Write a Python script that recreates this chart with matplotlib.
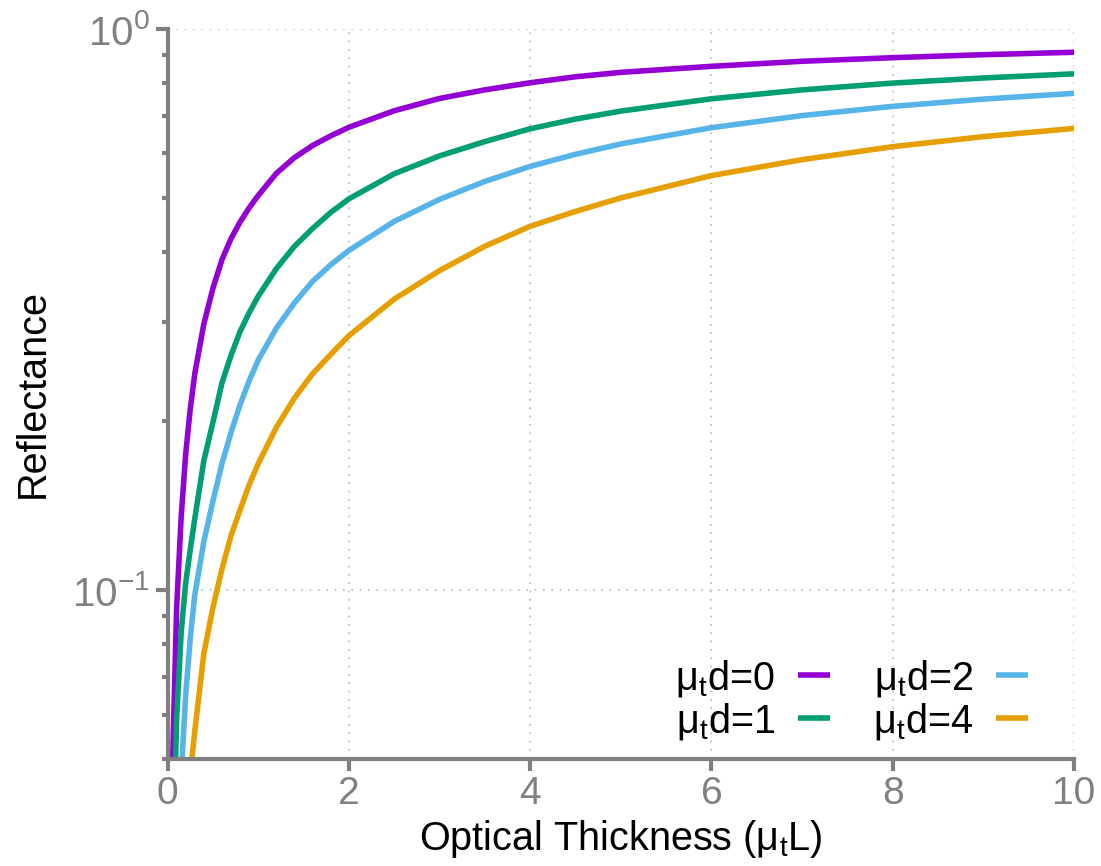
import matplotlib
matplotlib.use("Agg")
import matplotlib.pyplot as plt
from matplotlib.ticker import FixedLocator, FixedFormatter, NullLocator

plt.rcParams['font.family'] = ['Liberation Sans', 'DejaVu Sans']
plt.rcParams['mathtext.fontset'] = 'custom'
plt.rcParams['mathtext.rm'] = 'Liberation Sans'
plt.rcParams['mathtext.it'] = 'Liberation Sans'
plt.rcParams['mathtext.default'] = 'regular'

# optical thickness samples
thickness = [0.05, 0.1, 0.15, 0.2, 0.25, 0.3, 0.4, 0.5, 0.6, 0.7, 0.8, 0.9, 1.0,
             1.2, 1.4, 1.6, 1.8, 2.0, 2.5, 3.0, 3.5, 4.0, 4.5, 5.0, 6.0, 7.0, 8.0, 9.0, 10.0]

# reflectance for each depth mu_t d
refl_d0 = [0.046, 0.093, 0.135, 0.175, 0.210, 0.243, 0.298, 0.345, 0.388, 0.423, 0.453, 0.480, 0.505,
           0.553, 0.590, 0.620, 0.645, 0.668, 0.715, 0.752, 0.779, 0.802, 0.822, 0.837, 0.858, 0.876,
           0.889, 0.900, 0.909]
refl_d1 = [0.028, 0.059, 0.084, 0.103, 0.118, 0.134, 0.170, 0.199, 0.234, 0.262, 0.289, 0.312, 0.334,
           0.374, 0.410, 0.441, 0.471, 0.498, 0.552, 0.594, 0.630, 0.664, 0.691, 0.714, 0.751, 0.779,
           0.801, 0.818, 0.832]
refl_d2 = [0.016, 0.032, 0.047, 0.065, 0.082, 0.098, 0.122, 0.144, 0.168, 0.191, 0.214, 0.236, 0.257,
           0.293, 0.325, 0.355, 0.380, 0.403, 0.454, 0.497, 0.535, 0.569, 0.598, 0.624, 0.667, 0.701,
           0.728, 0.750, 0.768]
refl_d4 = [0.010, 0.020, 0.029, 0.038, 0.047, 0.056, 0.077, 0.093, 0.109, 0.125, 0.139, 0.154, 0.168,
           0.195, 0.220, 0.243, 0.263, 0.284, 0.330, 0.371, 0.410, 0.445, 0.473, 0.500, 0.548, 0.585,
           0.617, 0.643, 0.665]

labels = ['μ$_{t}$d=0', 'μ$_{t}$d=1', 'μ$_{t}$d=2', 'μ$_{t}$d=4']
colors = ['#9400D3', '#009E73', '#56B4E9', '#E69F00']

fig = plt.figure(figsize=(11.01, 8.66), dpi=100)
ax = fig.add_axes([0.1522, 0.1236, 0.8233, 0.8429])

for ys, lab, c in zip([refl_d0, refl_d1, refl_d2, refl_d4], labels, colors):
    ax.plot(thickness, ys, color=c, lw=4.0, label=lab, solid_capstyle='butt',
            solid_joinstyle='round')

ax.set_yscale('log')
ax.set_xlim(0, 10)
ax.set_ylim(0.05, 1.0)

gray = '#808080'
ax.xaxis.set_major_locator(FixedLocator([0, 2, 4, 6, 8, 10]))
ax.xaxis.set_minor_locator(NullLocator())
ax.yaxis.set_major_locator(FixedLocator([0.1, 1.0]))
ax.yaxis.set_major_formatter(FixedFormatter(['$10^{-1}$', '$10^{0}$']))
ax.yaxis.set_minor_locator(FixedLocator([0.05, 0.06, 0.07, 0.08, 0.09,
                                         0.2, 0.3, 0.4, 0.5, 0.6, 0.7, 0.8, 0.9]))
ax.yaxis.set_minor_formatter(FixedFormatter([]))

ax.tick_params(axis='both', which='major', direction='out', length=8.5, width=3,
               color=gray, labelcolor=gray, labelsize=28, pad=4)
ax.tick_params(axis='y', which='major', labelsize=29)
ax.tick_params(axis='y', which='minor', direction='out', length=4.5, width=3, color=gray)

for side in ['top', 'right']:
    ax.spines[side].set_visible(False)
for side in ['left', 'bottom']:
    ax.spines[side].set_color(gray)
    ax.spines[side].set_linewidth(3)

ax.grid(True, which='major', linestyle=(0, (1, 4)), color='#b8b8b8', lw=1.2)

ax.set_xlabel('Optical Thickness (μ$_{t}$L)', fontsize=28.5, labelpad=4)
ax.set_ylabel('Reflectance', fontsize=28.5, labelpad=15)

leg = ax.legend(ncol=2, loc='lower right', bbox_to_anchor=(0.988, -0.025), frameon=False,
                fontsize=28.5, markerfirst=False, handlelength=0.8, handletextpad=0.58,
                columnspacing=1.09, labelspacing=0.05)
for h in leg.get_lines():
    h.set_solid_capstyle('butt')

fig.savefig('out.png', dpi=100)
